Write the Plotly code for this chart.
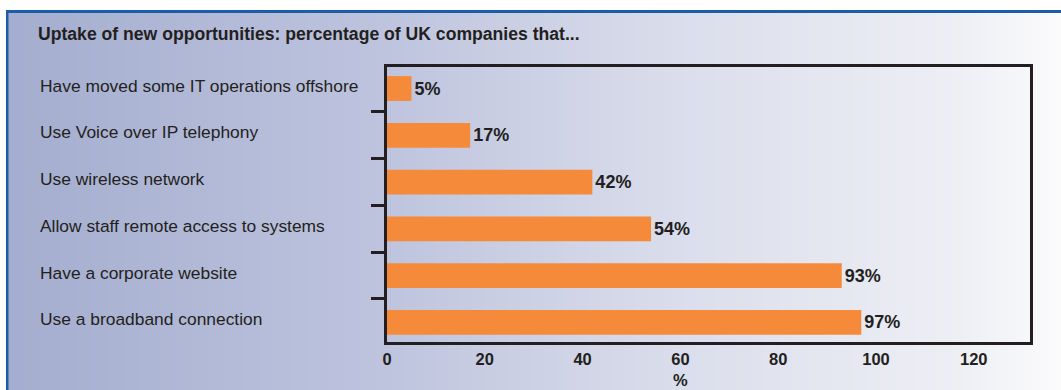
import plotly.graph_objects as go

# Survey results, listed top to bottom as drawn
categories = [
    "Have moved some IT operations offshore",
    "Use Voice over IP telephony",
    "Use wireless network",
    "Allow staff remote access to systems",
    "Have a corporate website",
    "Use a broadband connection",
]
values = [5, 17, 42, 54, 93, 97]
value_labels = ["5%", "17%", "42%", "54%", "93%", "97%"]
x_ticks = [0, 20, 40, 60, 80, 100, 120]

title_text = "Uptake of new opportunities: percentage of UK companies that..."

W, H = 1061, 390
ML, MR, MT, MB = 387, 31, 67, 48
PW, PH = W - ML - MR, H - MT - MB

DARK = "#231f20"
ORANGE = "#f68a3b"
FRAME_BLUE = "#1b5ea6"
FONT = "Liberation Sans, Arial, sans-serif"


def px_to_paper_x(px):
    return (px - ML) / PW


def px_to_paper_y(py):
    return (H - MB - py) / PH


# Horizontal background gradient: blue-grey on the left fading to near white
stops = [(0, (164, 173, 207)), (385, (190, 196, 222)), (700, (220, 223, 236)),
         (960, (238, 239, 245)), (1061, (251, 251, 252))]


def grad_color(px):
    for (x0, c0), (x1, c1) in zip(stops, stops[1:]):
        if x0 <= px <= x1:
            t = (px - x0) / (x1 - x0)
            return "rgb(%d,%d,%d)" % tuple(round(a + (b - a) * t) for a, b in zip(c0, c1))
    return "rgb(%d,%d,%d)" % stops[-1][1]


shapes = []
step = 4
for sx in range(8, W, step):
    shapes.append(dict(
        type="rect", xref="paper", yref="paper", layer="below",
        x0=px_to_paper_x(sx), x1=px_to_paper_x(min(sx + step + 1, W + 2)),
        y0=px_to_paper_y(H + 2), y1=px_to_paper_y(12),
        fillcolor=grad_color(sx + step / 2), line=dict(width=0),
    ))
# Blue frame: top and left edges
shapes.append(dict(type="rect", xref="paper", yref="paper", layer="below",
                   x0=px_to_paper_x(6), x1=px_to_paper_x(W + 2),
                   y0=px_to_paper_y(13), y1=px_to_paper_y(10),
                   fillcolor=FRAME_BLUE, line=dict(width=0)))
shapes.append(dict(type="rect", xref="paper", yref="paper", layer="below",
                   x0=px_to_paper_x(6), x1=px_to_paper_x(8.5),
                   y0=px_to_paper_y(H + 2), y1=px_to_paper_y(10),
                   fillcolor=FRAME_BLUE, line=dict(width=0)))

fig = go.Figure(go.Bar(
    x=values, y=categories, orientation="h",
    marker=dict(color=ORANGE, line=dict(width=0)),
    width=0.53,
    text=value_labels, textposition="outside", cliponaxis=False,
    textfont=dict(family=FONT, size=18, color=DARK),
    texttemplate="<b>%{text}</b>",
    hoverinfo="skip",
))

annotations = [dict(
    text="<b>%s</b>" % title_text, xref="paper", yref="paper",
    x=px_to_paper_x(36), y=px_to_paper_y(34), xanchor="left", yanchor="middle",
    showarrow=False, font=dict(family=FONT, size=17.6, color=DARK),
)]
for cat in categories:
    annotations.append(dict(
        text=cat, xref="paper", yref="y", x=px_to_paper_x(38), y=cat,
        xanchor="left", yanchor="middle", yshift=3, showarrow=False,
        font=dict(family=FONT, size=17.4, color=DARK),
    ))
annotations.append(dict(
    text="<b>%</b>", xref="x", yref="paper", x=60, y=px_to_paper_y(380),
    xanchor="center", yanchor="middle", showarrow=False,
    font=dict(family=FONT, size=16.5, color=DARK),
))

fig.update_layout(
    width=W, height=H,
    margin=dict(l=ML, r=MR, t=MT, b=MB, pad=0),
    paper_bgcolor="white", plot_bgcolor="rgba(0,0,0,0)",
    showlegend=False, shapes=shapes, annotations=annotations,
    xaxis=dict(
        range=[0, 131.5], tickvals=x_ticks, ticktext=["<b>%d</b>" % v for v in x_ticks],
        showgrid=False, zeroline=False, ticks="",
        showline=True, linecolor=DARK, linewidth=2.5, mirror=True,
        tickfont=dict(family=FONT, size=16.5, color=DARK),
    ),
    yaxis=dict(
        type="category", categoryorder="array", categoryarray=categories,
        range=[5.42, -0.46], showticklabels=False, showgrid=False, zeroline=False,
        ticks="outside", tickson="boundaries", ticklen=13, tickwidth=2.5, tickcolor=DARK,
        showline=True, linecolor=DARK, linewidth=2.5, mirror=True,
    ),
)

fig.write_html("out.html")
